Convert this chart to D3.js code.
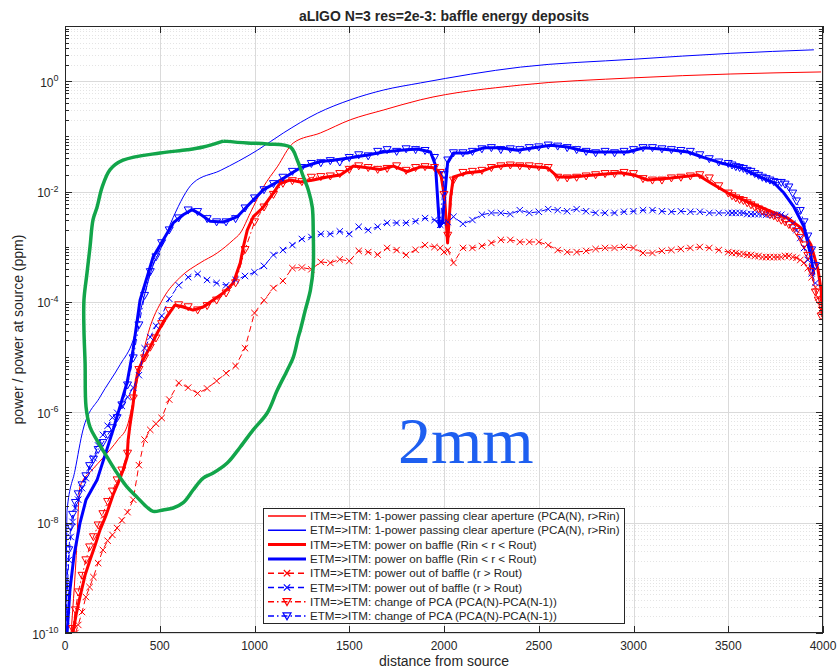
<!DOCTYPE html>
<html>
<head>
<meta charset="utf-8">
<script src="https://cdn.jsdelivr.net/npm/d3@7/dist/d3.min.js"></script>
<style>
  html, body { margin: 0; padding: 0; background: #fff; }
  svg { display: block; font-family: "Liberation Sans", Arial, Helvetica, sans-serif; }
</style>
</head>
<body>
<div id="chart"></div>
<script>
// distance of each baffle from the source (shared by the marker series)
const baffleDist = [
  5, 10, 20, 30, 40, 55, 70, 90, 110, 130, 150, 175, 200, 225, 250, 275, 300, 330, 360, 390, 420, 450, 480, 510,
  550, 600, 650, 700, 750, 800, 850, 900, 950, 1000,
  1050, 1100, 1150, 1200, 1250, 1300, 1350, 1400, 1450, 1500,
  1550, 1600, 1650, 1700, 1750, 1800, 1850, 1900, 1950,
  1980, 2000, 2020,
  2050, 2100, 2150, 2200, 2250, 2300, 2350, 2400, 2450, 2500,
  2550, 2600, 2650, 2700, 2750, 2800, 2850, 2900, 2950, 3000,
  3050, 3100, 3150, 3200, 3250, 3300, 3350, 3400, 3450, 3500,
  3520, 3540, 3560, 3580, 3600, 3620, 3640, 3660, 3680, 3700,
  3720, 3740, 3760, 3780, 3800, 3820, 3840, 3860, 3880, 3900,
  3920, 3940, 3960, 3975, 3990
];

// change of PCA, ETM=>ITM (blue triangles)
const pcaEtm = [
  2.1e-10, 7.4e-10, 3.2e-9, 8.3e-9, 1.4e-8, 2.3e-8, 3.3e-8, 4.8e-8, 7.0e-8, 1.07e-7, 1.4e-7, 2.1e-7,
  2.8e-7, 3.9e-7, 5.2e-7, 7.9e-7, 1.35e-6, 3.1e-6, 9.6e-6, 3.8e-5, 1.3e-4, 3.5e-4, 6.5e-4, 1.17e-3,
  2.0e-3, 3.3e-3, 4.6e-3, 4.3e-3, 3.2e-3, 2.8e-3, 2.8e-3, 3.2e-3, 5.0e-3, 7.6e-3,
  1.07e-2, 1.38e-2, 1.8e-2, 2.3e-2, 2.7e-2, 3.2e-2, 3.3e-2, 3.6e-2, 3.4e-2, 4.1e-2,
  4.6e-2, 4.4e-2, 5.3e-2, 5.7e-2, 5.3e-2, 5.9e-2, 5.7e-2, 5.5e-2, 4.1e-2,
  2.6e-3, 2.0e-2, 3.7e-2,
  5.0e-2, 5.0e-2, 5.3e-2, 5.9e-2, 6.2e-2, 5.7e-2, 5.9e-2, 5.7e-2, 6.2e-2, 6.4e-2,
  6.9e-2, 6.6e-2, 6.2e-2, 5.7e-2, 5.3e-2, 5.0e-2, 5.3e-2, 5.0e-2, 5.3e-2, 5.7e-2,
  6.2e-2, 6.2e-2, 5.9e-2, 5.7e-2, 5.5e-2, 5.3e-2, 4.6e-2, 3.9e-2, 3.4e-2, 3.2e-2,
  3.0e-2, 2.8e-2, 2.7e-2, 2.6e-2, 2.4e-2, 2.3e-2, 2.1e-2, 1.95e-2, 1.8e-2, 1.7e-2,
  1.6e-2, 1.5e-2, 1.45e-2, 1.45e-2, 1.35e-2, 1.2e-2, 9.3e-3, 6.7e-3, 4.5e-3, 2.8e-3,
  1.55e-3, 8.7e-4, 4.5e-4, null, null
];

// change of PCA, ITM=>ETM (red triangles)
const pcaItm = [
  2e-11, 3e-11, 5e-11, 7e-11, 1.2e-10, 2.6e-10, 5.5e-10, 1.1e-9, 2.1e-9, 3.6e-9, 5.5e-9, 9e-9,
  1.44e-8, 2.4e-8, 3.7e-8, 5.9e-8, 8.9e-8, 1.8e-7, 1.8e-6, 5.9e-6, 9.6e-6, 1.5e-5, 2.2e-5, 4.0e-5,
  6.9e-5, 8.8e-5, 8.1e-5, 7.1e-5, 8.5e-5, 1.07e-4, 1.44e-4, 2.2e-4, 8.8e-4, 2.8e-3,
  5.2e-3, 8.8e-3, 1.4e-2, 1.56e-2, 1.5e-2, 1.8e-2, 1.85e-2, 1.9e-2, 2.1e-2, 2.5e-2,
  2.9e-2, 2.7e-2, 2.5e-2, 2.6e-2, 2.9e-2, 2.4e-2, 2.7e-2, 2.8e-2, 2.7e-2,
  2.2e-2, 8.8e-3, 1.6e-3,
  1.6e-2, 2.2e-2, 2.3e-2, 2.4e-2, 2.7e-2, 2.9e-2, 3.0e-2, 2.9e-2, 2.9e-2, 2.8e-2,
  2.7e-2, 1.8e-2, 1.75e-2, 1.8e-2, 1.9e-2, 2.0e-2, 2.1e-2, 2.1e-2, 2.2e-2, 2.1e-2,
  1.7e-2, 1.6e-2, 1.6e-2, 1.75e-2, 1.8e-2, 1.9e-2, 2.0e-2, 1.75e-2, 1.26e-2, 9.3e-3,
  8.3e-3, 7.6e-3, 7.1e-3, 6.8e-3, 6.2e-3, 5.7e-3, 5.2e-3, 4.8e-3, 4.4e-3, 4.1e-3,
  3.8e-3, 3.6e-3, 3.3e-3, 3.0e-3, 2.8e-3, 2.5e-3, 2.2e-3, 1.87e-3, 1.45e-3, 1.07e-3,
  6.9e-4, 3.5e-4, 1.5e-4, 1.07e-4, 5.5e-5
];

// power out of baffle, ITM=>ETM (red x)
const outItm = [
  2e-11, 3e-11, 4e-11, 5e-11, 6e-11, 1.0e-10, 1.4e-10, 2.4e-10, 4.5e-10, 6.8e-10, 1.03e-9, 1.85e-9,
  3.2e-9, 4.7e-9, 6.0e-9, 8.0e-9, 1.1e-8, 1.55e-8, 2.6e-8, 1.1e-7, 3.2e-7, 4.8e-7, 6.2e-7, 7.9e-7,
  1.7e-6, 3.4e-6, 2.8e-6, 2.2e-6, 2.7e-6, 3.7e-6, 5.1e-6, 6.9e-6, 1.45e-5, 6.3e-5,
  1.07e-4, 1.78e-4, 2.4e-4, 4.1e-4, 4.2e-4, 3.9e-4, 5.3e-4, 5.1e-4, 5.9e-4, 5.5e-4,
  8.4e-4, 8.0e-4, 7.2e-4, 9.5e-4, 8.7e-4, 7.1e-4, 8.8e-4, 1.07e-3, 9.9e-4,
  9.5e-4, 8.0e-4, 8.7e-4,
  5.1e-4, 9.5e-4, 9.5e-4, 1.03e-3, 1.17e-3, 1.33e-3, 1.33e-3, 1.22e-3, 1.22e-3, 1.22e-3,
  1.07e-3, 8.7e-4, 8.0e-4, 8.0e-4, 8.4e-4, 9.1e-4, 9.5e-4, 9.5e-4, 9.9e-4, 9.5e-4,
  7.7e-4, 7.7e-4, 8.4e-4, 8.7e-4, 9.1e-4, 9.5e-4, 9.9e-4, 9.5e-4, 8.7e-4, 8.0e-4,
  7.7e-4, 7.7e-4, 7.4e-4, 7.4e-4, 7.1e-4, 7.1e-4, 6.8e-4, 6.8e-4, 6.5e-4, 6.5e-4,
  6.5e-4, 6.5e-4, 6.5e-4, 6.5e-4, 6.8e-4, 6.8e-4, 6.5e-4, 6.3e-4, 5.75e-4, 5.1e-4,
  4.1e-4, 2.8e-4, 1.85e-4, 1.2e-4, 7.1e-5
];

// power out of baffle, ETM=>ITM (blue x)
const outEtm = [
  1.7e-10, 4.9e-10, 2.1e-9, 5.5e-9, 1.03e-8, 1.84e-8, 2.6e-8, 4.2e-8, 6.4e-8, 9.8e-8, 1.48e-7, 2.5e-7,
  3.9e-7, 5.7e-7, 8.0e-7, 9.8e-7, 1.3e-6, 1.9e-6, 2.8e-6, 4.7e-6, 1.45e-5, 2.3e-5, 3.7e-5, 5.6e-5,
  1.14e-4, 2.0e-4, 2.8e-4, 3.2e-4, 2.5e-4, 2.2e-4, 2.0e-4, 2.5e-4, 2.95e-4, 3.45e-4,
  4.5e-4, 7.1e-4, 8.7e-4, 1.07e-3, 1.38e-3, 1.5e-3, 1.7e-3, 1.7e-3, 1.9e-3, 1.7e-3,
  2.3e-3, 2.0e-3, 2.3e-3, 2.7e-3, 2.7e-3, 2.7e-3, 2.9e-3, 3.3e-3, 3.05e-3,
  2.5e-3, 2.7e-3, 2.8e-3,
  3.5e-3, 2.6e-3, 3.05e-3, 3.8e-3, 4.1e-3, 4.1e-3, 3.9e-3, 4.6e-3, 4.1e-3, 4.3e-3,
  4.8e-3, 4.6e-3, 4.4e-3, 4.8e-3, 4.4e-3, 4.1e-3, 4.1e-3, 4.1e-3, 4.3e-3, 4.4e-3,
  4.6e-3, 4.6e-3, 4.4e-3, 4.3e-3, 4.4e-3, 4.3e-3, 4.3e-3, 4.1e-3, 4.1e-3, 4.1e-3,
  4.1e-3, 4.1e-3, 4.1e-3, 4.1e-3, 3.9e-3, 3.9e-3, 3.9e-3, 3.9e-3, 3.9e-3, 3.8e-3,
  3.8e-3, 3.8e-3, 3.8e-3, 3.8e-3, 3.5e-3, 3.05e-3, 2.6e-3, 2.0e-3, 1.44e-3, 9.5e-4,
  5.75e-4, 3.3e-4, 2.2e-4, null, null
];

// 1-power passing clear aperture: [distance, value]
const clearItm = [
  [32, 1.0e-10], [58, 2.1e-9], [79, 4.5e-8], [143, 9.0e-8], [201, 1.5e-7], [280, 3.2e-7], [328, 5.6e-7],
  [365, 2.0e-6], [396, 6.6e-6], [440, 2.8e-5], [518, 1.15e-4], [608, 2.8e-4], [713, 5.1e-4], [803, 7.7e-4],
  [888, 1.33e-3], [925, 1.77e-3], [978, 4.1e-3], [1046, 1.2e-2], [1120, 2.8e-2], [1205, 7.6e-2],
  [1347, 0.115], [1506, 0.20], [1680, 0.30], [1876, 0.46], [2404, 0.85], [3001, 1.15], [3514, 1.35], [3990, 1.47]
];
const clearEtm = [
  [5, 1.7e-10], [11, 1.7e-8], [53, 8.9e-8], [95, 4.8e-7], [185, 1.9e-6], [291, 7.3e-6], [359, 2.0e-5],
  [412, 1.07e-4], [465, 4.6e-4], [502, 8.7e-4], [571, 3.4e-3], [676, 1.43e-2], [819, 2.4e-2], [1015, 5.6e-2],
  [1152, 0.115], [1332, 0.263], [1506, 0.46], [1680, 0.69], [1876, 0.93], [2404, 1.8], [3001, 2.5],
  [3514, 3.2], [3952, 3.7]
];

// power on baffle (Rin < r < Rout): [distance, value]
const baffleItm = [
  [42, 1.0e-10], [58, 2.1e-10], [79, 4.5e-10], [106, 1.12e-9], [132, 2.1e-9], [159, 3.9e-9], [185, 7.4e-9],
  [217, 1.37e-8], [254, 3.2e-8], [280, 5.2e-8], [307, 9.0e-8], [328, 1.55e-7], [333, 3.1e-7], [343, 5.9e-7],
  [359, 1.36e-6], [370, 2.9e-6], [386, 5.8e-6], [412, 8.9e-6], [449, 1.52e-5], [486, 2.7e-5], [518, 4.3e-5],
  [555, 6.6e-5], [581, 8.8e-5], [624, 8.1e-5], [676, 7.1e-5], [729, 8.1e-5], [782, 1.08e-4], [835, 1.45e-4],
  [888, 2.2e-4], [925, 5.1e-4], [941, 9.9e-4], [962, 2.0e-3], [994, 3.5e-3], [1046, 5.2e-3], [1099, 9.4e-3],
  [1136, 1.43e-2], [1189, 1.62e-2], [1242, 1.49e-2], [1310, 1.62e-2], [1384, 1.84e-2], [1453, 2.0e-2],
  [1522, 2.9e-2], [1596, 2.7e-2], [1664, 2.5e-2], [1733, 2.9e-2], [1807, 2.3e-2], [1876, 2.8e-2],
  [1945, 2.7e-2], [1982, 2.2e-2], [2003, 8.0e-3], [2019, 1.17e-3], [2035, 8.0e-3], [2050, 1.84e-2],
  [2124, 2.2e-2], [2193, 2.3e-2], [2261, 2.8e-2], [2335, 3.0e-2], [2404, 3.0e-2], [2473, 2.8e-2],
  [2547, 2.7e-2], [2600, 1.84e-2], [2669, 1.84e-2], [2790, 2.0e-2], [2933, 2.2e-2], [3001, 2.0e-2],
  [3075, 1.62e-2], [3197, 1.76e-2], [3340, 2.0e-2], [3408, 1.43e-2], [3498, 9.4e-3], [3604, 6.5e-3],
  [3709, 4.6e-3], [3815, 3.3e-3], [3884, 2.2e-3], [3937, 1.07e-3], [3974, 3.8e-4], [3990, 1.64e-4], [3999, 5.3e-5]
];
const baffleEtm = [
  [11, 1e-10], [26, 6e-10], [48, 2.6e-9], [79, 9.8e-9], [111, 2.6e-8], [169, 5.9e-8], [254, 4.8e-7],
  [328, 3.5e-6], [359, 1.35e-5], [396, 1.07e-4], [433, 2.8e-4], [465, 6.5e-4], [518, 1.32e-3], [571, 2.7e-3],
  [624, 3.8e-3], [671, 4.7e-3], [713, 3.9e-3], [766, 2.9e-3], [835, 2.8e-3], [909, 3.5e-3], [978, 6.2e-3],
  [1046, 1.07e-2], [1136, 1.6e-2], [1242, 2.7e-2], [1347, 3.5e-2], [1416, 3.7e-2], [1506, 4.1e-2],
  [1596, 4.6e-2], [1680, 5.2e-2], [1770, 5.6e-2], [1860, 5.9e-2], [1929, 5.2e-2], [1955, 3.0e-2],
  [1976, 2.3e-3], [1992, 2.8e-3], [2019, 3.3e-2], [2050, 5.0e-2], [2124, 5.0e-2], [2209, 6.2e-2],
  [2299, 6.2e-2], [2388, 5.6e-2], [2473, 6.2e-2], [2563, 6.9e-2], [2653, 6.4e-2], [2721, 5.6e-2],
  [2790, 5.2e-2], [2880, 5.2e-2], [2970, 5.2e-2], [3054, 6.2e-2], [3144, 5.9e-2], [3213, 5.6e-2],
  [3287, 5.2e-2], [3355, 4.3e-2], [3461, 3.3e-2], [3567, 2.7e-2], [3672, 1.8e-2], [3741, 1.44e-2],
  [3794, 9.4e-3], [3847, 5.2e-3], [3900, 2.3e-3], [3937, 6.5e-4], [3952, 3.1e-4]
];

// hand-drawn green outline (annotation), [distance, value]
const outline2mm = [
  [835, 8.2e-2], [962, 7.6e-2], [1067, 7.3e-2], [1189, 6.4e-2], [1226, 3.7e-2], [1258, 1.84e-2],
  [1284, 1.07e-2], [1305, 5.2e-3], [1310, 1.77e-3], [1310, 4.3e-4], [1295, 1.64e-4], [1268, 7.1e-5],
  [1242, 3.1e-5], [1231, 2.3e-5], [1205, 1.0e-5], [1173, 5.8e-6], [1120, 2.5e-6], [1067, 9.7e-7],
  [993, 4.8e-7], [925, 2.35e-7], [856, 1.2e-7], [782, 7.9e-8], [729, 6.4e-8], [676, 3.9e-8], [624, 2.3e-8],
  [571, 1.84e-8], [518, 1.7e-8], [465, 1.6e-8], [433, 1.9e-8], [380, 2.9e-8], [328, 4.4e-8], [275, 7.9e-8],
  [222, 1.55e-7], [169, 3.1e-7], [132, 5.4e-7], [111, 1.25e-6], [106, 7.8e-6], [100, 3.1e-5], [100, 1.08e-4],
  [116, 3.3e-4], [132, 9.9e-4], [148, 3.1e-3], [169, 5.2e-3], [196, 1.2e-2], [238, 2.5e-2], [306, 3.7e-2],
  [502, 5.0e-2], [645, 5.7e-2], [729, 6.4e-2], [835, 8.2e-2]
];

const legendLabels = [
  'ITM=>ETM: 1-power passing clear aperture (PCA(N), r>Rin)',
  'ETM=>ITM: 1-power passing clear aperture (PCA(N), r>Rin)',
  'ITM=>ETM: power on baffle (Rin < r < Rout)',
  'ETM=>ITM: power on baffle (Rin < r < Rout)',
  'ITM=>ETM: power out of baffle (r > Rout)',
  'ETM=>ITM: power out of baffle (r > Rout)',
  'ITM=>ETM: change of PCA (PCA(N)-PCA(N-1))',
  'ETM=>ITM: change of PCA (PCA(N)-PCA(N-1))'
];

const xTicks = [0, 500, 1000, 1500, 2000, 2500, 3000, 3500, 4000];
const yTickExps = [-10, -8, -6, -4, -2, 0];
const yMinorMantissas = [2, 3, 4, 5, 6, 7, 8, 9];

const RED = '#ff0000';
const BLUE = '#0000ff';
const AXIS = '#262626';

const width = 838, height = 669;
const margin = { top: 26, right: 15, bottom: 36, left: 65 };
const innerW = width - margin.left - margin.right;
const innerH = height - margin.top - margin.bottom;

const svg = d3.select('#chart').append('svg')
  .attr('width', width).attr('height', height)
  .attr('viewBox', `0 0 ${width} ${height}`);

const x = d3.scaleLinear().domain([0, 4000]).range([0, innerW]);
const y = d3.scaleLog().domain([1e-10, 1e1]).range([innerH, 0]);

const g = svg.append('g').attr('transform', `translate(${margin.left},${margin.top})`);

svg.append('defs').append('clipPath').attr('id', 'plot-clip')
  .append('rect').attr('x', 0).attr('y', 0).attr('width', innerW).attr('height', innerH);

// minor grid (every mantissa + odd decades), dotted
const minorVals = [];
for (let k = -10; k < 1; k++) {
  if (k % 2 !== 0) minorVals.push(Math.pow(10, k));
  yMinorMantissas.forEach((m) => minorVals.push(m * Math.pow(10, k)));
}
const gridLayer = g.append('g');
gridLayer.selectAll('line.minor').data(minorVals).join('line')
  .attr('class', 'minor')
  .attr('x1', 0).attr('x2', innerW)
  .attr('y1', (d) => Math.round(y(d)) + 0.5).attr('y2', (d) => Math.round(y(d)) + 0.5)
  .attr('stroke', '#e4e4e4').attr('stroke-width', 1).attr('stroke-dasharray', '1,2');
gridLayer.selectAll('line.ymajor').data(yTickExps).join('line')
  .attr('class', 'ymajor')
  .attr('x1', 0).attr('x2', innerW)
  .attr('y1', (e) => Math.round(y(Math.pow(10, e))) + 0.5).attr('y2', (e) => Math.round(y(Math.pow(10, e))) + 0.5)
  .attr('stroke', '#dadada').attr('stroke-width', 1);
gridLayer.selectAll('line.xmajor').data(xTicks).join('line')
  .attr('class', 'xmajor')
  .attr('x1', (d) => Math.round(x(d)) + 0.5).attr('x2', (d) => Math.round(x(d)) + 0.5)
  .attr('y1', 0).attr('y2', innerH)
  .attr('stroke', '#dadada').attr('stroke-width', 1);

// series styles, built from the data arrays above
const pairs = (vals) => baffleDist.map((d, i) => [d, vals[i]]);
const series = [
  { label: legendLabels[0], points: clearItm, color: RED, width: 1, dash: null, marker: null, smooth: true },
  { label: legendLabels[1], points: clearEtm, color: BLUE, width: 1, dash: null, marker: null, smooth: true },
  { label: legendLabels[2], points: baffleItm, color: RED, width: 3, dash: null, marker: null },
  { label: legendLabels[3], points: baffleEtm, color: BLUE, width: 3, dash: null, marker: null },
  { label: legendLabels[4], points: pairs(outItm), color: RED, width: 1, dash: '6,4', marker: 'x' },
  { label: legendLabels[5], points: pairs(outEtm), color: BLUE, width: 1, dash: '6,4', marker: 'x' },
  { label: legendLabels[6], points: pairs(pcaItm), color: RED, width: 1, dash: '6,3,1.5,3', marker: 'v' },
  { label: legendLabels[7], points: pairs(pcaEtm), color: BLUE, width: 1, dash: '6,3,1.5,3', marker: 'v' }
];

const markerPath = {
  x: 'M-3.2,-3.2L3.2,3.2M-3.2,3.2L3.2,-3.2',
  v: 'M-4,-3.2L4,-3.2L0,3.8Z'
};

const line = d3.line()
  .defined((d) => d[1] != null)
  .x((d) => x(d[0]))
  .y((d) => y(d[1]));
const smoothLine = d3.line()
  .defined((d) => d[1] != null)
  .x((d) => x(d[0]))
  .y((d) => y(d[1]))
  .curve(d3.curveMonotoneX);

const dataLayer = g.append('g').attr('clip-path', 'url(#plot-clip)');
series.forEach((s) => {
  dataLayer.append('path')
    .datum(s.points)
    .attr('d', s.smooth ? smoothLine : line)
    .attr('fill', 'none')
    .attr('stroke', s.color)
    .attr('stroke-width', s.width)
    .attr('stroke-linejoin', 'round')
    .attr('stroke-dasharray', s.dash);
  if (s.marker) {
    dataLayer.append('g').selectAll('path')
      .data(s.points.filter((d) => d[1] != null))
      .join('path')
      .attr('transform', (d) => `translate(${x(d[0])},${y(d[1])})`)
      .attr('d', markerPath[s.marker])
      .attr('fill', 'none')
      .attr('stroke', s.color)
      .attr('stroke-width', 1);
  }
});

// green outline and the "2mm" annotation
dataLayer.append('path')
  .datum(outline2mm)
  .attr('d', d3.line().x((d) => x(d[0])).y((d) => y(d[1])).curve(d3.curveCatmullRom.alpha(0.5)))
  .attr('fill', 'none')
  .attr('stroke', '#12a54a')
  .attr('stroke-width', 3.5)
  .attr('stroke-linejoin', 'round');

g.append('text')
  .attr('x', x(1757)).attr('y', y(1.2e-7))
  .attr('font-family', '"Liberation Serif", "Times New Roman", serif')
  .attr('font-size', 66)
  .attr('fill', '#1e5ff0')
  .text('2mm');

// axes box and ticks (inside, mirrored)
const axisLayer = g.append('g').attr('stroke', AXIS).attr('stroke-width', 1);
axisLayer.append('rect')
  .attr('x', 0.5).attr('y', 0.5).attr('width', innerW - 1).attr('height', innerH - 1)
  .attr('fill', 'none');
xTicks.forEach((t) => {
  const px = Math.round(x(t)) + 0.5;
  axisLayer.append('line').attr('x1', px).attr('x2', px).attr('y1', innerH).attr('y2', innerH - 7);
  axisLayer.append('line').attr('x1', px).attr('x2', px).attr('y1', 0).attr('y2', 7);
});
yTickExps.forEach((e) => {
  const py = Math.round(y(Math.pow(10, e))) + 0.5;
  axisLayer.append('line').attr('x1', 0).attr('x2', 7).attr('y1', py).attr('y2', py);
  axisLayer.append('line').attr('x1', innerW).attr('x2', innerW - 7).attr('y1', py).attr('y2', py);
});
minorVals.forEach((v) => {
  const py = Math.round(y(v)) + 0.5;
  axisLayer.append('line').attr('x1', 0).attr('x2', 4).attr('y1', py).attr('y2', py);
  axisLayer.append('line').attr('x1', innerW).attr('x2', innerW - 4).attr('y1', py).attr('y2', py);
});

// tick labels
g.append('g').selectAll('text').data(xTicks).join('text')
  .attr('x', (d) => x(d)).attr('y', innerH + 17)
  .attr('text-anchor', 'middle').attr('font-size', 12).attr('fill', AXIS)
  .text((d) => d);

const yLabels = g.append('g').selectAll('text').data(yTickExps).join('text')
  .attr('x', -6.5).attr('y', (e) => y(Math.pow(10, e)) + 5.5)
  .attr('text-anchor', 'end').attr('font-size', 12).attr('fill', AXIS);
yLabels.append('tspan').text('10');
yLabels.append('tspan').attr('dy', -5.5).attr('font-size', 9).text((e) => e);

// titles
svg.append('text')
  .attr('x', margin.left + innerW / 2).attr('y', 21)
  .attr('text-anchor', 'middle').attr('font-size', 14).attr('font-weight', 'bold').attr('fill', AXIS)
  .text('aLIGO N=3 res=2e-3: baffle energy deposits');
svg.append('text')
  .attr('x', margin.left + innerW / 2).attr('y', 666)
  .attr('text-anchor', 'middle').attr('font-size', 14).attr('fill', AXIS)
  .text('distance from source');
svg.append('text')
  .attr('transform', 'rotate(-90)')
  .attr('x', -(margin.top + innerH / 2)).attr('y', 23)
  .attr('text-anchor', 'middle').attr('font-size', 14).attr('fill', AXIS)
  .text('power / power at source (ppm)');

// legend
const legend = svg.append('g').attr('transform', 'translate(263,508)');
legend.append('rect')
  .attr('x', 0.5).attr('y', 0.5).attr('width', 361).attr('height', 115)
  .attr('fill', '#fff').attr('stroke', AXIS).attr('stroke-width', 1);
series.forEach((s, i) => {
  const row = legend.append('g').attr('transform', `translate(0,${8 + i * 14.3})`);
  row.append('line')
    .attr('x1', 5).attr('x2', 43).attr('y1', 0).attr('y2', 0)
    .attr('stroke', s.color).attr('stroke-width', s.width === 1 ? 1.5 : s.width)
    .attr('stroke-dasharray', s.dash);
  if (s.marker) {
    row.append('path')
      .attr('transform', 'translate(24,0)')
      .attr('d', markerPath[s.marker])
      .attr('fill', 'none').attr('stroke', s.color).attr('stroke-width', 1.2);
  }
  row.append('text')
    .attr('x', 47).attr('y', 4)
    .attr('font-size', 11.6).attr('fill', AXIS)
    .text(s.label);
});
</script>
</body>
</html>
